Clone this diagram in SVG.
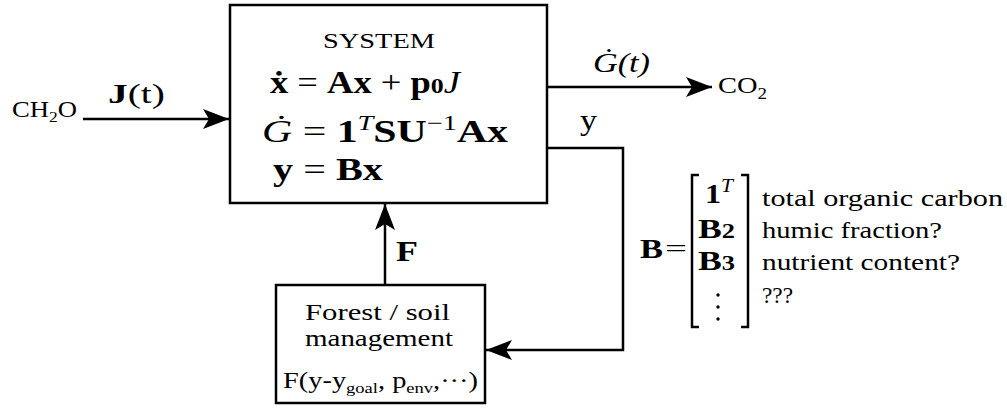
<svg xmlns="http://www.w3.org/2000/svg" width="1007" height="409" viewBox="0 0 1007 409">
<style>
text{font-family:"Liberation Serif","DejaVu Serif",serif;fill:#000}
.b{font-weight:bold}
.i{font-style:italic}
.box{fill:#fff;stroke:#000;stroke-width:2.5}
.ln{fill:none;stroke:#000;stroke-width:2.5}
</style>
<defs>
<marker id="ah" markerUnits="userSpaceOnUse" markerWidth="30" markerHeight="24" viewBox="-27 -12 30 24" refX="0" refY="0" orient="auto">
<path d="M0,0 L-26,-10 L-20,0 L-26,10 Z" fill="#000"/>
</marker>
</defs>
<g id="connectors">
<line class="ln" x1="83" y1="119" x2="229" y2="119" marker-end="url(#ah)"/>
<line class="ln" x1="547" y1="87" x2="712" y2="87" marker-end="url(#ah)"/>
<polyline class="ln" points="547,148 623,148 623,350 486,350" marker-end="url(#ah)"/>
<line class="ln" x1="385" y1="285" x2="385" y2="204" marker-end="url(#ah)"/>
<text x="12" y="117" font-size="23" textLength="65" lengthAdjust="spacingAndGlyphs">CH<tspan font-size="15" dy="5">2</tspan><tspan dy="-5">O</tspan></text>
<text x="108" y="103" font-size="28" textLength="57" lengthAdjust="spacingAndGlyphs"><tspan class="b">J</tspan>(t)</text>
<text x="593" y="72" font-size="28" class="i" textLength="57" lengthAdjust="spacingAndGlyphs">Ġ(t)</text>
<text x="718" y="93" font-size="24" textLength="49" lengthAdjust="spacingAndGlyphs">CO<tspan font-size="16" dy="6">2</tspan></text>
<text x="580" y="130" font-size="30" textLength="17" lengthAdjust="spacingAndGlyphs">y</text>
<text x="396" y="261" font-size="30" class="b" textLength="22" lengthAdjust="spacingAndGlyphs">F</text>
</g>
<g id="system">
<rect class="box" x="230" y="5" width="317" height="198"/>
<text x="379" y="48" font-size="22" text-anchor="middle" textLength="112" lengthAdjust="spacingAndGlyphs">SYSTEM</text>
<text x="270" y="93" font-size="31" textLength="190" lengthAdjust="spacingAndGlyphs"><tspan class="b">ẋ</tspan> = <tspan class="b">Ax</tspan> + <tspan class="b">p</tspan><tspan class="b" font-size="22">0</tspan><tspan class="i">J</tspan></text>
<text x="262" y="142" font-size="31" textLength="246" lengthAdjust="spacingAndGlyphs"><tspan class="i">Ġ</tspan> = <tspan class="b">1</tspan><tspan class="i" font-size="21" dy="-12">T</tspan><tspan class="b" dy="12">SU</tspan><tspan font-size="21" dy="-12">−1</tspan><tspan class="b" dy="12">Ax</tspan></text>
<text x="273" y="180" font-size="31" textLength="110" lengthAdjust="spacingAndGlyphs"><tspan class="b">y</tspan> = <tspan class="b">Bx</tspan></text>
</g>
<g id="management">
<rect class="box" x="276" y="285" width="209" height="118"/>
<text x="305" y="320" font-size="23" textLength="145" lengthAdjust="spacingAndGlyphs">Forest / soil</text>
<text x="305" y="346" font-size="23" textLength="148" lengthAdjust="spacingAndGlyphs">management</text>
<text x="283" y="388" font-size="23" textLength="195" lengthAdjust="spacingAndGlyphs">F(y-y<tspan font-size="15" dy="5">goal</tspan><tspan dy="-5">, p</tspan><tspan font-size="15" dy="5">env</tspan><tspan dy="-5">,···)</tspan></text>
</g>
<g id="matrix">
<text x="640" y="258" font-size="28" class="b" textLength="23" lengthAdjust="spacingAndGlyphs">B</text>
<text x="665" y="257" font-size="26" textLength="22" lengthAdjust="spacingAndGlyphs">=</text>
<path class="ln" stroke-width="2" d="M699,175 H692 V327 H699 M741,175 H748 V327 H741"/>
<text x="705" y="203" font-size="27" textLength="28" lengthAdjust="spacingAndGlyphs"><tspan class="b">1</tspan><tspan class="i" font-size="18" dy="-11">T</tspan></text>
<text x="698" y="238" font-size="27" class="b" textLength="37" lengthAdjust="spacingAndGlyphs">B<tspan font-size="20">2</tspan></text>
<text x="698" y="270" font-size="27" class="b" textLength="37" lengthAdjust="spacingAndGlyphs">B<tspan font-size="20">3</tspan></text>
<circle cx="718" cy="295" r="1.7"/>
<circle cx="718" cy="307" r="1.7"/>
<circle cx="718" cy="319" r="1.7"/>
<text x="762" y="206" font-size="23" textLength="241" lengthAdjust="spacingAndGlyphs">total organic carbon</text>
<text x="762" y="238" font-size="23" textLength="180" lengthAdjust="spacingAndGlyphs">humic fraction?</text>
<text x="762" y="270" font-size="23" textLength="198" lengthAdjust="spacingAndGlyphs">nutrient content?</text>
<text x="762" y="303" font-size="23" textLength="31" lengthAdjust="spacingAndGlyphs">???</text>
</g>
</svg>
